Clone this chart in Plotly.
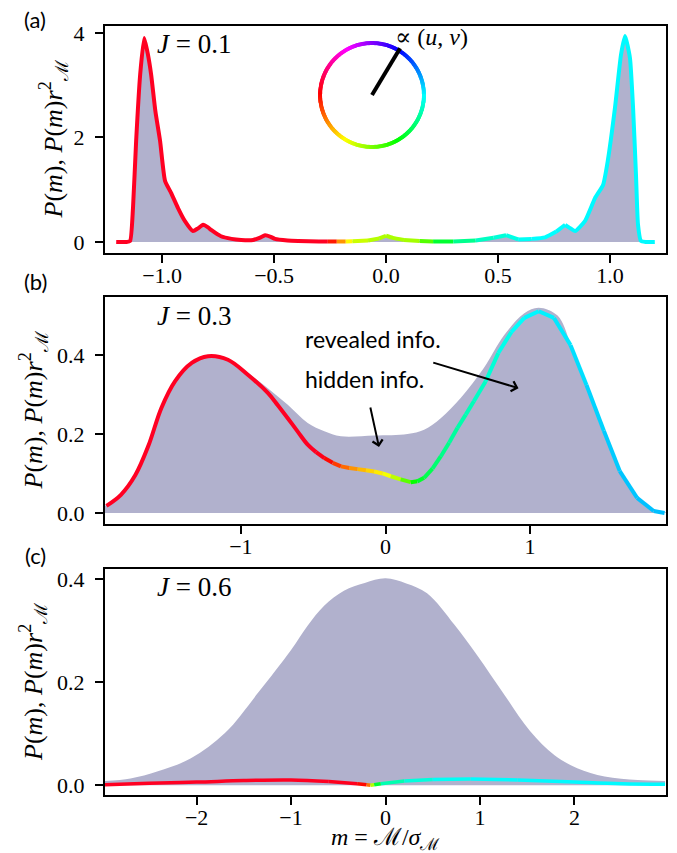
import colorsys
import math
import plotly.graph_objects as go

# ---------------- data ----------------
# Panel (a): J = 0.1
a_x = [-1.205, -1.16, -1.143, -1.13, -1.116, -1.098, -1.08, -1.064, -1.049, -1.03,
       -1.009, -0.987, -0.96, -0.929, -0.898, -0.862, -0.84, -0.817, -0.795, -0.781,
       -0.737, -0.69, -0.647, -0.594, -0.565, -0.54, -0.515, -0.496, -0.44, -0.393,
       -0.3, -0.26, -0.22, -0.18, -0.15, -0.08, -0.03, 0.0, 0.03, 0.08,
       0.15, 0.21, 0.3, 0.4, 0.48, 0.536, 0.59, 0.65, 0.71, 0.76,
       0.80, 0.82, 0.844, 0.888, 0.933, 0.969, 0.99, 1.022, 1.049, 1.067,
       1.089, 1.103, 1.116, 1.125, 1.138, 1.16, 1.20]
a_line = [0.0, 0.0, 0.02, 0.65, 1.93, 3.2, 3.9, 3.6, 3.2, 2.5,
          1.93, 1.17, 0.94, 0.65, 0.40, 0.21, 0.26, 0.33, 0.28, 0.23,
          0.11, 0.06, 0.04, 0.04, 0.08, 0.13, 0.10, 0.06, 0.03, 0.02,
          0.01, 0.01, 0.01, 0.01, 0.015, 0.03, 0.07, 0.12, 0.08, 0.04,
          0.02, 0.01, 0.01, 0.03, 0.08, 0.13, 0.05, 0.06, 0.09, 0.2,
          0.33, 0.27, 0.21, 0.40, 0.84, 1.09, 1.55, 2.56, 3.58, 3.94,
          3.52, 2.56, 1.28, 0.33, 0.02, 0.0, 0.0]
a_fill = a_line[:]
a_hue = [-8] * 31 + [-8, 20, 50, 68, 76, 78, 80, 80, 80,
                     82, 118, 145, 162, 170, 172, 176, 180, 180, 180] + [181] * 17

# Panel (b): J = 0.3
b_x = [-1.93, -1.83, -1.73, -1.64, -1.55, -1.455, -1.34, -1.228, -1.09, -0.952,
       -0.814, -0.745, -0.676, -0.607, -0.538, -0.48, -0.423, -0.365, -0.308, -0.25,
       -0.193, -0.135, -0.078, -0.02, 0.037, 0.105, 0.175, 0.22, 0.267, 0.325,
       0.382, 0.44, 0.497, 0.555, 0.611, 0.692, 0.78, 0.87, 0.96, 1.06,
       1.165, 1.28, 1.39, 1.51, 1.62, 1.74, 1.855, 1.93]
b_line = [0.018, 0.046, 0.096, 0.17, 0.266, 0.334, 0.38, 0.397, 0.388, 0.350,
          0.304, 0.273, 0.240, 0.206, 0.173, 0.154, 0.139, 0.127, 0.118, 0.114,
          0.111, 0.108, 0.105, 0.100, 0.093, 0.085, 0.078, 0.080, 0.089, 0.112,
          0.143, 0.178, 0.215, 0.249, 0.283, 0.333, 0.405, 0.458, 0.494, 0.511,
          0.494, 0.425, 0.324, 0.208, 0.106, 0.038, 0.005, 0.0]
b_hue = [-8] * 16 + [-4, 8, 20, 30, 40, 47, 53, 58, 66, 85,
                     112, 125, 135, 143, 150, 155, 159, 162, 165, 168,
                     173, 178, 181, 182, 184, 186, 189, 191, 193, 194,
                     195, 195]
b_fill_x = [-1.94, -1.83, -1.73, -1.64, -1.55, -1.455, -1.34, -1.228, -1.09, -0.952,
            -0.814, -0.676, -0.538, -0.423, -0.308, -0.078, 0.152, 0.267, 0.382, 0.52,
            0.68, 0.82, 0.96, 1.06, 1.19, 1.28, 1.39, 1.51, 1.62, 1.74,
            1.855, 1.94]
b_fill = [0.018, 0.046, 0.096, 0.17, 0.266, 0.334, 0.38, 0.398, 0.39, 0.355,
          0.316, 0.274, 0.228, 0.207, 0.194, 0.196, 0.2, 0.211, 0.24, 0.291,
          0.367, 0.45, 0.506, 0.52, 0.50, 0.43, 0.33, 0.21, 0.108, 0.04,
          0.006, 0.002]

# Panel (c): J = 0.6
c_x = [-2.97, -2.5, -2.0, -1.5, -1.0, -0.6, -0.3, -0.2, -0.16, -0.12,
       -0.05, 0.2, 0.5, 0.9, 1.4, 2.0, 2.5, 2.96]
c_line = [0.001, 0.004, 0.006, 0.009, 0.010, 0.007, 0.003, 0.001, 0.0, 0.001,
          0.003, 0.008, 0.011, 0.012, 0.010, 0.006, 0.003, 0.002]
c_hue = [-8, -8, -8, -8, -8, -8, -6, 10, 45, 110, 155, 168, 176, 180, 181, 181, 181, 181]
c_fill_x = [-2.97, -2.7, -2.41, -2.06, -1.70, -1.35, -1.00, -0.825, -0.65, -0.44,
            -0.22, 0.0, 0.22, 0.44, 0.73, 0.97, 1.26, 1.53, 1.79, 2.03,
            2.32, 2.67, 2.96]
c_fill = [0.008, 0.013, 0.027, 0.052, 0.101, 0.179, 0.262, 0.309, 0.348, 0.377,
          0.392, 0.401, 0.391, 0.372, 0.311, 0.252, 0.175, 0.105, 0.058, 0.033,
          0.017, 0.010, 0.008]

panel_J = ["0.1", "0.3", "0.6"]
a_xticks = [-1.0, -0.5, 0.0, 0.5, 1.0]
a_yticks = [0, 2, 4]
b_xticks = [-1, 0, 1]
b_yticks = [0.0, 0.2, 0.4]
c_xticks = [-2, -1, 0, 1, 2]
c_yticks = [0.0, 0.2, 0.4]
pointer_angle_deg = 59  # direction of (u, v) pointer on the colour wheel

# ---------------- styling ----------------
W, H = 677, 853
ML, MR, MT, MB = 97, 19, 18, 66
PW, PH = W - ML - MR, H - MT - MB
FILL = "rgb(177,177,205)"
SERIF = "Liberation Serif, DejaVu Serif, serif"
SANS = "Lato, DejaVu Sans, sans-serif"
TXT_SHIFT = 9   # px correction for annotation text vertical centring
X_SHIFT = 10    # px correction for left-anchored annotation text


def px2x(px):
    return (px - ML) / PW


def py2y(py):
    return (H - MB - py) / PH


def hue_rgb(h):
    r, g, b = colorsys.hsv_to_rgb((h % 360) / 360.0, 1, 1)
    return f"rgb({int(r * 255)},{int(g * 255)},{int(b * 255)})"


fig = go.Figure()


def add_fill(xs, ys, xa, ya, sm):
    fig.add_trace(go.Scatter(x=xs, y=ys, mode="lines", fill="tozeroy", fillcolor=FILL,
                             line=dict(width=0, shape="spline", smoothing=sm),
                             xaxis=xa, yaxis=ya, hoverinfo="skip", showlegend=False))


def add_colored_line(xs, ys, hues, xa, ya, width, sm):
    n = len(xs)
    seg_cols = [hue_rgb((hues[k] + hues[k + 1]) / 2.0) for k in range(n - 1)]
    k = 0
    while k < n - 1:
        m = k
        while m + 1 < n - 1 and seg_cols[m + 1] == seg_cols[k]:
            m += 1
        px = xs[k:m + 2]
        py = ys[k:m + 2]
        fig.add_trace(go.Scatter(x=px, y=py, mode="lines",
                                 line=dict(color=seg_cols[k], width=width,
                                           shape="spline" if len(px) > 2 else "linear",
                                           smoothing=sm),
                                 xaxis=xa, yaxis=ya, hoverinfo="skip", showlegend=False))
        k = m + 1


add_fill(a_x, a_fill, "x", "y", 0.5)
add_fill(b_fill_x, b_fill, "x2", "y2", 1.0)
add_fill(c_fill_x, c_fill, "x3", "y3", 1.0)
add_colored_line(a_x, a_line, a_hue, "x", "y", 4, 0.5)
add_colored_line(b_x, b_line, b_hue, "x2", "y2", 4, 1.0)
add_colored_line(c_x, c_line, c_hue, "x3", "y3", 3.5, 1.0)

# colour wheel (inset)
ang = list(range(0, 360))
fig.add_trace(go.Scatter(x=[math.cos(math.radians(t)) for t in ang],
                         y=[math.sin(math.radians(t)) for t in ang],
                         mode="markers",
                         marker=dict(size=4, color=[hue_rgb(t + 180) for t in ang], line=dict(width=0)),
                         xaxis="x4", yaxis="y4", hoverinfo="skip", showlegend=False))
fig.add_trace(go.Scatter(x=[0, 1.05 * math.cos(math.radians(pointer_angle_deg))],
                         y=[0, 1.05 * math.sin(math.radians(pointer_angle_deg))],
                         mode="lines", line=dict(color="black", width=4),
                         xaxis="x4", yaxis="y4", hoverinfo="skip", showlegend=False))

tickfont = dict(family=SERIF, size=22, color="black")
axcommon = dict(showline=True, linecolor="black", linewidth=2, mirror=True,
                ticks="outside", ticklen=8, tickwidth=2, tickcolor="black",
                showgrid=False, zeroline=False, tickfont=tickfont)

dom_a = [py2y(245), py2y(18)]
dom_b = [py2y(516), py2y(289)]
dom_c = [py2y(787), py2y(561)]
XSTAND = -6
YSTAND = 6

fig.update_layout(
    width=W, height=H, margin=dict(l=ML, r=MR, t=MT, b=MB),
    paper_bgcolor="white", plot_bgcolor="white",
    font=dict(family=SERIF, color="black"),
    xaxis=dict(axcommon, domain=[0, 1], anchor="y", range=[-1.255, 1.25],
               tickvals=a_xticks, tickformat=".1f", ticklabelstandoff=XSTAND),
    yaxis=dict(axcommon, domain=dom_a, anchor="x", range=[-0.21, 4.13],
               tickvals=a_yticks, tickformat="d", ticklabelstandoff=YSTAND),
    xaxis2=dict(axcommon, domain=[0, 1], anchor="y2", range=[-1.94, 1.94],
                tickvals=b_xticks, tickformat="d", ticklabelstandoff=XSTAND),
    yaxis2=dict(axcommon, domain=dom_b, anchor="x2", range=[-0.028, 0.547],
                tickvals=b_yticks, tickformat=".1f", ticklabelstandoff=YSTAND),
    xaxis3=dict(axcommon, domain=[0, 1], anchor="y3", range=[-2.97, 2.97],
                tickvals=c_xticks, tickformat="d", ticklabelstandoff=XSTAND),
    yaxis3=dict(axcommon, domain=dom_c, anchor="x3", range=[-0.019, 0.419],
                tickvals=c_yticks, tickformat=".1f", ticklabelstandoff=YSTAND),
    xaxis4=dict(domain=[px2x(310), px2x(418)], anchor="y4", range=[-1.04, 1.04], visible=False),
    yaxis4=dict(domain=[py2y(141), py2y(33)], anchor="x4", range=[-1.04, 1.04], visible=False),
)

ann = []
# panel letters
for lab, yc in [("(a)", 20), ("(b)", 282), ("(c)", 556)]:
    ann.append(dict(text=lab, x=px2x(27), y=py2y(yc - TXT_SHIFT), xref="paper", yref="paper",
                    xanchor="center", yanchor="middle", showarrow=False,
                    font=dict(family=SANS, size=22, color="black")))
# y titles
ytitle = "<i>P</i>(<i>m</i>), <i>P</i>(<i>m</i>)<i>r</i><sup>2</sup><sub>ℳ</sub>"
for xc, yc in [(54, 131.5), (34, 402.5), (34, 674)]:
    ann.append(dict(text=ytitle, x=px2x(xc - TXT_SHIFT), y=py2y(yc), xref="paper", yref="paper",
                    xanchor="center", yanchor="middle", textangle=-90, showarrow=False,
                    font=dict(family=SERIF, size=26, color="black")))
# x title
ann.append(dict(text="<i>m</i> = ℳ/<i>σ</i><sub>ℳ</sub>", x=px2x(377), y=py2y(840 - TXT_SHIFT),
                xref="paper", yref="paper", xanchor="center", yanchor="middle",
                showarrow=False, font=dict(family=SERIF, size=24, color="black")))
# J labels
for (xr, yr), J, yd in zip([("x domain", "y domain"), ("x2 domain", "y2 domain"), ("x3 domain", "y3 domain")],
                           panel_J, [0.881, 0.877, 0.88]):
    ann.append(dict(text=f"<i>J</i> = {J}", x=(58 - X_SHIFT + 2) / PW, y=yd + TXT_SHIFT / 227.0,
                    xref=xr, yref=yr, xanchor="left", yanchor="middle", showarrow=False,
                    font=dict(family=SERIF, size=27, color="black")))
# wheel label
ann.append(dict(text="∝ (<i>u</i>, <i>v</i>)", x=px2x(395 - X_SHIFT), y=py2y(38 - TXT_SHIFT),
                xref="paper", yref="paper", xanchor="left", yanchor="middle", showarrow=False,
                font=dict(family=SERIF, size=24, color="black")))
# info labels and arrows in panel (b)
bshift = TXT_SHIFT / 395.0
bx_text = (305 - X_SHIFT - 378) / 145.0
ann.append(dict(text="revealed info.", x=bx_text, y=0.418 + bshift, xref="x2", yref="y2",
                xanchor="left", yanchor="middle", showarrow=False,
                font=dict(family=SANS, size=23, color="black")))
ann.append(dict(text="hidden info.", x=bx_text, y=0.316 + bshift, xref="x2", yref="y2",
                xanchor="left", yanchor="middle", showarrow=False,
                font=dict(family=SANS, size=23, color="black")))
ann.append(dict(text="", x=0.92, y=0.316, ax=0.32, ay=0.382, xref="x2", yref="y2",
                axref="x2", ayref="y2", showarrow=True, arrowhead=4, arrowsize=1,
                arrowwidth=2, arrowcolor="black"))
ann.append(dict(text="", x=-0.045, y=0.167, ax=-0.107, ay=0.271, xref="x2", yref="y2",
                axref="x2", ayref="y2", showarrow=True, arrowhead=4, arrowsize=1,
                arrowwidth=2, arrowcolor="black"))
fig.update_layout(annotations=ann)

fig.write_html("out.html")
